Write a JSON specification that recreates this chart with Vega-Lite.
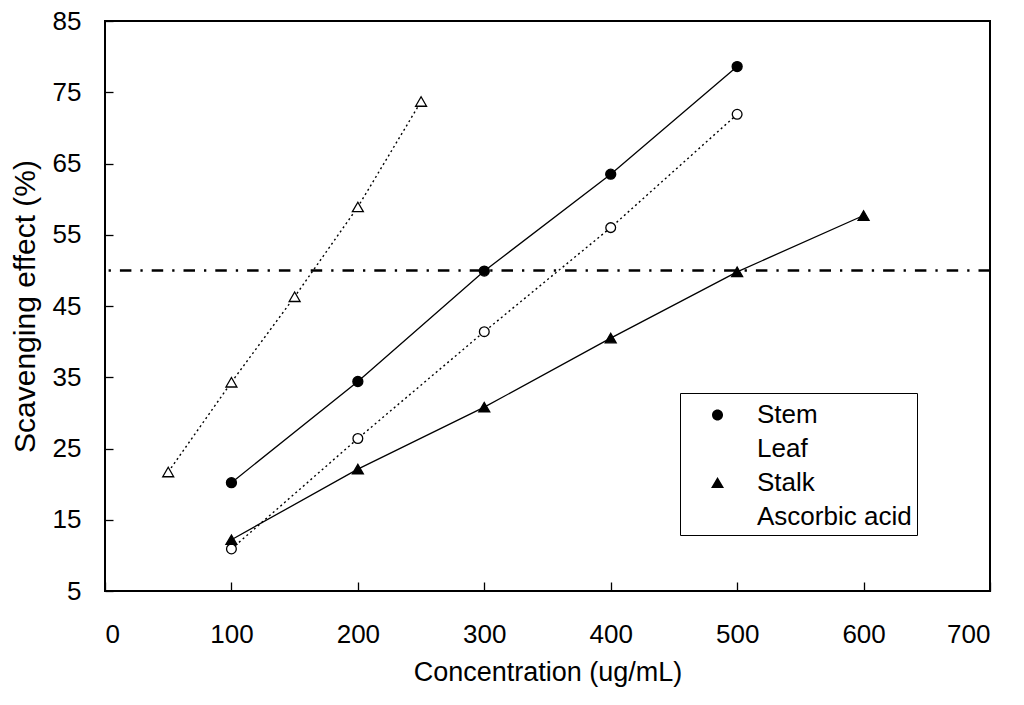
{
  "$schema": "https://vega.github.io/schema/vega-lite/v6.json",
  "description": "Scavenging effect by concentration for stem, leaf, stalk and ascorbic acid.",
  "width": 885,
  "height": 570,
  "autosize": {"type": "none"},
  "padding": {"left": 105, "top": 21, "right": 34, "bottom": 114},
  "background": "white",
  "data": {
    "values": [
      {"series": "Stem", "conc": 100, "effect": 20.2},
      {"series": "Stem", "conc": 200, "effect": 34.4},
      {"series": "Stem", "conc": 300, "effect": 49.9},
      {"series": "Stem", "conc": 400, "effect": 63.5},
      {"series": "Stem", "conc": 500, "effect": 78.6},
      {"series": "Leaf", "conc": 100, "effect": 10.9},
      {"series": "Leaf", "conc": 200, "effect": 26.4},
      {"series": "Leaf", "conc": 300, "effect": 41.4},
      {"series": "Leaf", "conc": 400, "effect": 56.0},
      {"series": "Leaf", "conc": 500, "effect": 71.9},
      {"series": "Stalk", "conc": 100, "effect": 12.2},
      {"series": "Stalk", "conc": 200, "effect": 22.1},
      {"series": "Stalk", "conc": 300, "effect": 30.8},
      {"series": "Stalk", "conc": 400, "effect": 40.5},
      {"series": "Stalk", "conc": 500, "effect": 49.8},
      {"series": "Stalk", "conc": 600, "effect": 57.7},
      {"series": "Ascorbic acid", "conc": 50, "effect": 21.7},
      {"series": "Ascorbic acid", "conc": 100, "effect": 34.3},
      {"series": "Ascorbic acid", "conc": 150, "effect": 46.3},
      {"series": "Ascorbic acid", "conc": 200, "effect": 58.9},
      {"series": "Ascorbic acid", "conc": 250, "effect": 73.7}
    ]
  },
  "layer": [
    {
      "data": {"values": [{"level": 50}]},
      "mark": {"type": "rule", "color": "black", "strokeWidth": 2.5, "strokeDash": [11.5, 9, 2.3, 9]},
      "encoding": {
        "y": {
          "field": "level",
          "type": "quantitative",
          "title": "Scavenging effect (%)",
          "scale": {"domain": [5, 85], "nice": false},
          "axis": {
            "values": [5, 10, 15, 20, 25, 30, 35, 40, 45, 50, 55, 60, 65, 70, 75, 80, 85],
            "labelExpr": "(datum.value - 5) % 10 === 0 ? datum.label : ''",
            "tickSize": {"condition": {"test": "(datum.value - 5) % 10 === 0", "value": -8}, "value": -5},
            "labelPadding": 32,
            "titlePadding": 12,
            "titleFontSize": 30
          }
        }
      }
    },
    {
      "transform": [{"filter": {"field": "series", "oneOf": ["Stem", "Stalk"]}}],
      "mark": {"type": "line", "color": "black", "strokeWidth": 1.3},
      "encoding": {
        "x": {
          "field": "conc",
          "type": "quantitative",
          "title": "Concentration (ug/mL)",
          "scale": {"domain": [0, 700], "nice": false},
          "axis": {
            "values": [0, 100, 200, 300, 400, 500, 600, 700],
            "tickSize": -9,
            "labelPadding": 39,
            "titlePadding": 12,
            "titleFontSize": 27
          }
        },
        "y": {"field": "effect", "type": "quantitative"},
        "detail": {"field": "series"}
      }
    },
    {
      "transform": [{"filter": {"field": "series", "oneOf": ["Leaf", "Ascorbic acid"]}}],
      "mark": {"type": "line", "color": "black", "strokeWidth": 1.4, "strokeDash": [2, 3]},
      "encoding": {
        "x": {"field": "conc", "type": "quantitative"},
        "y": {"field": "effect", "type": "quantitative"},
        "detail": {"field": "series"}
      }
    },
    {
      "transform": [{"filter": {"field": "series", "equal": "Stem"}}],
      "mark": {"type": "point", "shape": "circle", "filled": true, "fill": "black", "opacity": 1, "stroke": "black", "strokeWidth": 1.3, "size": 100},
      "encoding": {
        "x": {"field": "conc", "type": "quantitative"},
        "y": {"field": "effect", "type": "quantitative"}
      }
    },
    {
      "transform": [{"filter": {"field": "series", "equal": "Leaf"}}],
      "mark": {"type": "point", "shape": "circle", "filled": true, "fill": "white", "opacity": 1, "stroke": "black", "strokeWidth": 1.3, "size": 95},
      "encoding": {
        "x": {"field": "conc", "type": "quantitative"},
        "y": {"field": "effect", "type": "quantitative"}
      }
    },
    {
      "transform": [{"filter": {"field": "series", "equal": "Stalk"}}],
      "mark": {"type": "point", "shape": "triangle-up", "filled": true, "fill": "black", "opacity": 1, "stroke": "black", "strokeWidth": 1.3, "size": 120},
      "encoding": {
        "x": {"field": "conc", "type": "quantitative"},
        "y": {"field": "effect", "type": "quantitative"}
      }
    },
    {
      "transform": [{"filter": {"field": "series", "equal": "Ascorbic acid"}}],
      "mark": {"type": "point", "shape": "triangle-up", "filled": true, "fill": "white", "opacity": 1, "stroke": "black", "strokeWidth": 1.3, "size": 120},
      "encoding": {
        "x": {"field": "conc", "type": "quantitative"},
        "y": {"field": "effect", "type": "quantitative"}
      }
    },
    {
      "transform": [{"filter": "datum.conc < 0"}],
      "mark": {"type": "point", "filled": true, "opacity": 1, "stroke": "black", "strokeWidth": 1.3},
      "encoding": {
        "x": {"field": "conc", "type": "quantitative"},
        "y": {"field": "effect", "type": "quantitative"},
        "shape": {
          "field": "series",
          "scale": {
            "domain": ["Stem", "Leaf", "Stalk", "Ascorbic acid"],
            "range": [
              "M-1,0H2.94M1.314,0A0.344,0.344,0,1,1,0.626,0A0.344,0.344,0,1,1,1.314,0Z",
              "M-0.755,0H-0.617M-0.224,0H-0.086M0.307,0H0.445M1.495,0H1.633M2.026,0H2.164M2.557,0H2.695M1.251,0A0.281,0.281,0,1,1,0.689,0A0.281,0.281,0,1,1,1.251,0Z",
              "M-1,0H2.94M0.97,-0.375L1.376,0.3125L0.564,0.3125Z",
              "M-0.755,0H-0.617M-0.224,0H-0.086M0.307,0H0.445M1.495,0H1.633M2.026,0H2.164M2.557,0H2.695M0.97,-0.344L1.314,0.281L0.626,0.281Z"
            ]
          },
          "legend": {
            "title": null,
            "orient": "none",
            "legendX": 575,
            "legendY": 372,
            "symbolSize": 1024,
            "rowPadding": 4,
            "padding": 5,
            "strokeColor": "black",
            "labelFontSize": 26,
            "labelOffset": 38,
            "symbolStrokeColor": "black",
            "symbolStrokeWidth": 1.3,
            "symbolOpacity": 1
          }
        },
        "fill": {
          "field": "series",
          "scale": {
            "domain": ["Stem", "Leaf", "Stalk", "Ascorbic acid"],
            "range": ["black", "white", "black", "white"]
          }
        }
      }
    }
  ],
  "config": {
    "font": "Liberation Sans",
    "view": {"stroke": "black", "strokeWidth": 2},
    "axis": {
      "domain": false,
      "grid": false,
      "tickColor": "black",
      "tickWidth": 1.3,
      "labelColor": "black",
      "labelFont": "Liberation Sans",
      "labelFontSize": 26,
      "titleFont": "Liberation Sans",
      "titleFontWeight": "normal",
      "titleColor": "black"
    },
    "legend": {
      "labelFont": "Liberation Sans",
      "labelColor": "black"
    }
  }
}
